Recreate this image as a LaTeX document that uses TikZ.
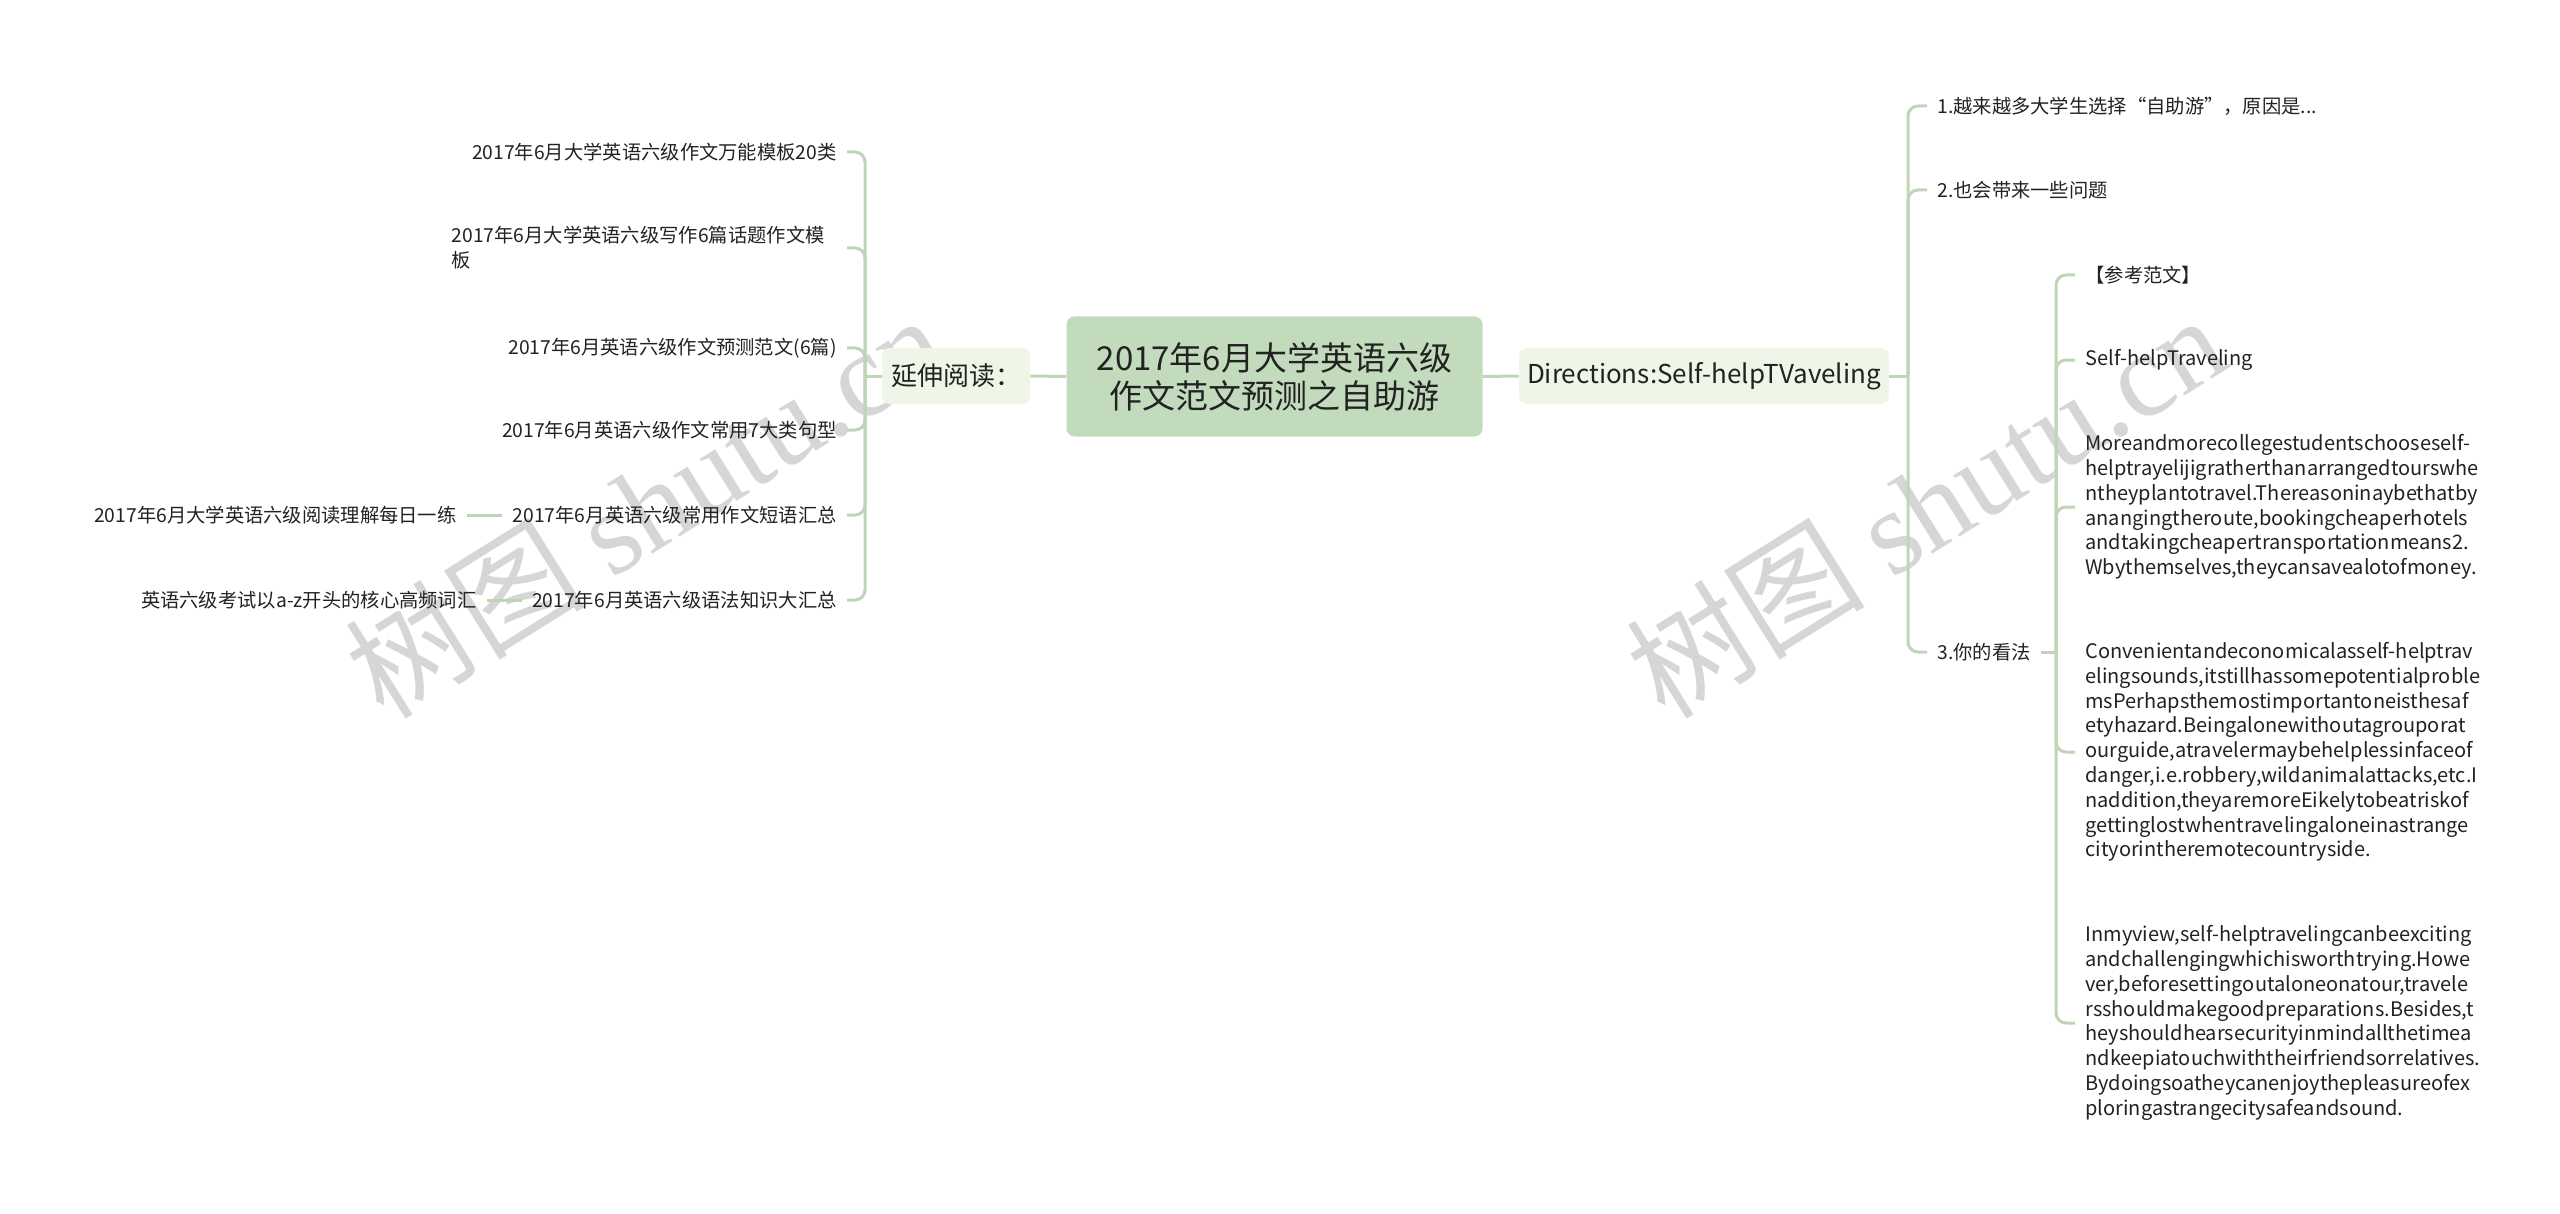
\documentclass[tikz,border=0pt]{standalone}
\usepackage{fontspec}
\setmainfont{Noto Sans CJK SC}
\newfontfamily\wmfont{Liberation Serif}
\usepackage{tikz}

\definecolor{lineg}{HTML}{BFD6B6}
\definecolor{rootg}{HTML}{C2DBBD}
\definecolor{topicg}{HTML}{EFF5E7}
\definecolor{ink}{HTML}{222222}

\begin{document}
\begin{tikzpicture}[x=0.5pt,y=-0.5pt,
  link/.style={draw=lineg,line width=1.5pt,rounded corners=5pt},
  rootbox/.style={fill=rootg,rounded corners=4pt,minimum width=208pt,minimum height=60pt,align=center,text=ink,font=\fontsize{16.5}{19}\selectfont},
  topic/.style={fill=topicg,rounded corners=4pt,minimum height=28pt,text=ink,font=\fontsize{13}{16}\selectfont},
  leaf/.style={inner xsep=5pt,inner ysep=2pt,align=left,text=ink,font=\fontsize{9.65}{12.4}\selectfont},
  para/.style={leaf,font=\fontsize{10}{12.4}\selectfont},
  wm/.style={text=gray!40,opacity=0.8,font=\fontsize{60}{60}\selectfont,rotate=32}]
\useasboundingbox (0,0) rectangle (2560,1214);

% watermarks
\node[wm] (wm1) at (645,505) {树图 {\wmfont shutu.cn}};
\node[wm] (wm2) at (1925,505) {树图 {\wmfont shutu.cn}};

% root and first level
\node[rootbox] (root) at (1274.5,376.5) {2017年6月大学英语六级\\作文范文预测之自助游};
\node[topic,minimum width=74pt] (yd) at (956,376) {延伸阅读：};
\node[topic,minimum width=185pt] (dir) at (1704,376) {Directions:Self-helpTVaveling};

\draw[link] (root.west) -- (yd.east);
\draw[link] (root.east) -- (dir.west);

% left branch
\coordinate (sl) at (865,376);
\node[leaf,anchor=east] (a1) at (847,152) {2017年6月大学英语六级作文万能模板20类};
\node[leaf,anchor=east,text width=192.5pt] (a2) at (847,248) {2017年6月大学英语六级写作6篇话题作文模\\板};
\node[leaf,anchor=east] (a3) at (847,348) {2017年6月英语六级作文预测范文(6篇)};
\node[leaf,anchor=east] (a4) at (847,430) {2017年6月英语六级作文常用7大类句型};
\node[leaf,anchor=east] (a5) at (847,515) {2017年6月英语六级常用作文短语汇总};
\node[leaf,anchor=east] (a6) at (847,600) {2017年6月英语六级语法知识大汇总};
\node[leaf,anchor=east] (b5) at (467,515) {2017年6月大学英语六级阅读理解每日一练};
\node[leaf,anchor=east] (b6) at (487,600) {英语六级考试以a-z开头的核心高频词汇};

\draw[link] (yd.west) -- (sl);
\foreach \n in {a1,a2,a3,a4,a5,a6}
  \draw[link] (sl) |- (\n.east);
\draw[link] (a5.west) -- (b5.east);
\draw[link] (a6.west) -- (b6.east);

% right branch
\coordinate (sr) at (1908,376);
\node[leaf,anchor=west] (r1) at (1927,106) {1.越来越多大学生选择“自助游”，原因是...};
\node[leaf,anchor=west] (r2) at (1927,190) {2.也会带来一些问题};
\node[leaf,anchor=west] (r3) at (1927,652) {3.你的看法};

\draw[link] (dir.east) -- (sr);
\foreach \n in {r1,r2,r3}
  \draw[link] (sr) |- (\n.west);

% 3. sub items
\coordinate (sv) at (2056,652);
\node[leaf,anchor=west] (s1) at (2075,275) {【参考范文】};
\node[para,anchor=west] (s2) at (2075,360) {Self-helpTraveling};
\node[para,anchor=west] (s3) at (2075,507) {Moreandmorecollegestudentschooseself-\\
helptrayelijigratherthanarrangedtourswhe\\
ntheyplantotravel.Thereasoninaybethatby\\
anangingtheroute,bookingcheaperhotels\\
andtakingcheapertransportationmeans2.\\
Wbythemselves,theycansavealotofmoney.};
\node[para,anchor=west] (s4) at (2075,752) {Convenientandeconomicalasself-helptrav\\
elingsounds,itstillhassomepotentialproble\\
msPerhapsthemostimportantoneisthesaf\\
etyhazard.Beingalonewithoutagrouporat\\
ourguide,atravelermaybehelplessinfaceof\\
danger,i.e.robbery,wildanimalattacks,etc.I\\
naddition,theyaremoreEikelytobeatriskof\\
gettinglostwhentravelingaloneinastrange\\
cityorintheremotecountryside.};
\node[para,anchor=west] (s5) at (2075,1023) {Inmyview,self-helptravelingcanbeexciting\\
andchallengingwhichisworthtrying.Howe\\
ver,beforesettingoutaloneonatour,travele\\
rsshouldmakegoodpreparations.Besides,t\\
heyshouldhearsecurityinmindallthetimea\\
ndkeepiatouchwiththeirfriendsorrelatives.\\
Bydoingsoatheycanenjoythepleasureofex\\
ploringastrangecitysafeandsound.};

\draw[link] (r3.east) -- (sv);
\foreach \n in {s1,s2,s3,s4,s5}
  \draw[link] (sv) |- (\n.west);

\end{tikzpicture}
\end{document}
